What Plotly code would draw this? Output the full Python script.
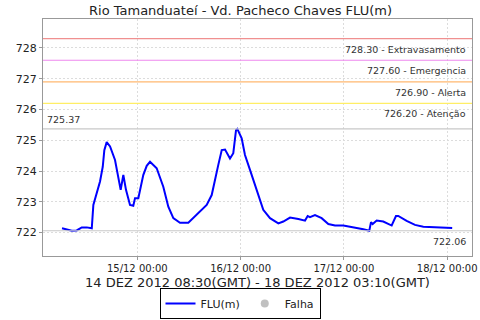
import plotly.graph_objects as go

times = [
    "2012-12-14 06:30", "2012-12-14 07:36", "2012-12-14 08:46", "2012-12-14 09:55",
    "2012-12-14 11:05", "2012-12-14 12:15", "2012-12-14 13:25", "2012-12-14 13:47",
    "2012-12-14 14:34", "2012-12-14 15:20", "2012-12-14 15:58", "2012-12-14 16:20",
    "2012-12-14 16:53", "2012-12-14 17:40", "2012-12-14 18:49", "2012-12-14 19:35",
    "2012-12-14 20:08", "2012-12-14 20:45", "2012-12-14 21:22", "2012-12-14 22:18",
    "2012-12-14 23:04", "2012-12-14 23:28", "2012-12-15 00:14", "2012-12-15 01:23",
    "2012-12-15 02:11", "2012-12-15 02:57", "2012-12-15 04:30", "2012-12-15 06:02",
    "2012-12-15 07:12", "2012-12-15 08:22", "2012-12-15 09:55", "2012-12-15 11:51",
    "2012-12-15 13:01", "2012-12-15 14:34", "2012-12-15 16:07", "2012-12-15 17:17",
    "2012-12-15 18:03", "2012-12-15 18:49", "2012-12-15 19:37", "2012-12-15 20:23",
    "2012-12-15 21:32", "2012-12-15 22:18", "2012-12-15 22:56", "2012-12-15 23:14",
    "2012-12-16 00:15", "2012-12-16 01:01", "2012-12-16 02:11", "2012-12-16 03:44",
    "2012-12-16 05:16", "2012-12-16 06:50", "2012-12-16 08:46", "2012-12-16 09:55",
    "2012-12-16 11:29", "2012-12-16 13:25", "2012-12-16 14:58", "2012-12-16 15:35",
    "2012-12-16 16:07", "2012-12-16 17:17", "2012-12-16 18:50", "2012-12-16 20:23",
    "2012-12-16 21:56", "2012-12-16 23:52", "2012-12-17 02:11", "2012-12-17 04:31",
    "2012-12-17 05:54", "2012-12-17 06:18", "2012-12-17 06:41", "2012-12-17 07:37",
    "2012-12-17 09:09", "2012-12-17 11:06", "2012-12-17 12:06", "2012-12-17 12:38",
    "2012-12-17 14:35", "2012-12-17 16:31", "2012-12-17 18:27", "2012-12-17 22:20",
    "2012-12-18 01:10",
]
flu = [
    722.14, 722.09, 722.06, 722.07, 722.17, 722.17, 722.14, 722.90,
    723.33, 723.66, 724.14, 724.68, 724.94, 724.80, 724.36, 723.82,
    723.39, 723.87, 723.39, 722.90, 722.87, 723.12, 723.12, 723.87,
    724.17, 724.30, 724.09, 723.49, 722.84, 722.47, 722.32, 722.32,
    722.47, 722.68, 722.90, 723.22, 723.66, 724.20, 724.68, 724.70,
    724.41, 724.58, 725.33, 725.37, 725.06, 724.52, 724.04, 723.39,
    722.74, 722.47, 722.30, 722.36, 722.49, 722.44, 722.39, 722.54,
    722.50, 722.57, 722.47, 722.28, 722.23, 722.23, 722.18, 722.11,
    722.06, 722.34, 722.28, 722.39, 722.36, 722.23, 722.54, 722.54,
    722.38, 722.25, 722.19, 722.17, 722.15,
]
thresholds = [728.30, 727.60, 726.90, 726.20]
threshold_names = ["Extravasamento", "Emergencia", "Alerta", "Atenção"]
threshold_colors = ["#f09090", "#ee88ee", "#ffb870", "#ffee66"]
max_val = 725.37
min_val = 722.06
x_ticks = ["2012-12-15 00:00", "2012-12-16 00:00", "2012-12-17 00:00", "2012-12-18 00:00"]
x_tick_text = ["15/12 00:00", "16/12 00:00", "17/12 00:00", "18/12 00:00"]
y_ticks = [722, 723, 724, 725, 726, 727, 728]

FONT = "DejaVu Sans"
fig = go.Figure()

shapes = []
annotations = []
for v, n, c in zip(thresholds, threshold_names, threshold_colors):
    shapes.append(dict(type="line", xref="paper", x0=0, x1=1, yref="y", y0=v, y1=v,
                       line=dict(color=c, width=1.2)))
    annotations.append(dict(xref="paper", x=1, xshift=-4, yref="y", y=v, yshift=-3,
                            text=f"{v:.2f} - {n}", showarrow=False, xanchor="right",
                            yanchor="top", font=dict(family=FONT, size=9.5, color="#333")))
for v in [max_val, min_val]:
    shapes.append(dict(type="line", xref="paper", x0=0, x1=1, yref="y", y0=v, y1=v,
                       line=dict(color="#c8c8c8", width=1.2)))
annotations.append(dict(xref="paper", x=0, xshift=2, yref="y", y=max_val, yshift=2,
                        text=f"{max_val:.2f}", showarrow=False, xanchor="left",
                        yanchor="bottom", font=dict(family=FONT, size=9.5, color="#333")))
annotations.append(dict(xref="paper", x=1, xshift=-4, yref="y", y=min_val, yshift=-3,
                        text=f"{min_val:.2f}", showarrow=False, xanchor="right",
                        yanchor="top", font=dict(family=FONT, size=9.5, color="#333")))
annotations.append(dict(xref="paper", x=(240 - 43) / 429, y=1, yref="paper", yshift=9,
                        text="Rio Tamanduateí - Vd. Pacheco Chaves FLU(m)", showarrow=False,
                        xanchor="center", yanchor="middle",
                        font=dict(family=FONT, size=13, color="#222")))
annotations.append(dict(xref="paper", x=0.5, y=0, yref="paper", yshift=-26,
                        text="14 DEZ 2012 08:30(GMT) - 18 DEZ 2012 03:10(GMT)", showarrow=False,
                        xanchor="center", yanchor="middle",
                        font=dict(family=FONT, size=13, color="#222")))

fig.add_trace(go.Scatter(x=times, y=flu, mode="lines", name="FLU(m)",
                         line=dict(color="#0000ff", width=2)))
fig.add_trace(go.Scatter(x=[None], y=[None], mode="markers", name="Falha",
                         marker=dict(color="#c0c0c0", size=8)))

fig.update_layout(
    width=480, height=320,
    margin=dict(l=43, r=8, t=19, b=64, autoexpand=False),
    paper_bgcolor="white", plot_bgcolor="white",
    font=dict(family=FONT, size=11, color="#222"),
    shapes=shapes, annotations=annotations,
    showlegend=True,
    legend=dict(orientation="h", x=0.5, xref="container", xanchor="center",
                y=0.1, yref="container", yanchor="top",
                bordercolor="black", borderwidth=1, font=dict(family=FONT, size=11, color="#222"),
                itemwidth=30, tracegroupgap=0),
    xaxis=dict(
        range=["2012-12-14 02:05", "2012-12-18 05:46"],
        tickvals=x_ticks, ticktext=x_tick_text,
        tickfont=dict(family=FONT, size=10, color="#222"),
        showgrid=True, gridcolor="#dcdcdc", griddash="2px,2px", gridwidth=1,
        showline=True, linecolor="#999", linewidth=1, mirror=True,
        ticks="outside", ticklen=3, tickcolor="#999",
        zeroline=False, automargin=False,
    ),
    yaxis=dict(
        range=[721.24, 728.94],
        tickvals=y_ticks,
        tickfont=dict(family=FONT, size=11, color="#222"),
        showgrid=True, gridcolor="#dcdcdc", griddash="2px,2px", gridwidth=1,
        showline=True, linecolor="#999", linewidth=1, mirror=True,
        ticks="outside", ticklen=3, tickcolor="#999",
        zeroline=False, automargin=False,
    ),
)

fig.write_html("out.html")
